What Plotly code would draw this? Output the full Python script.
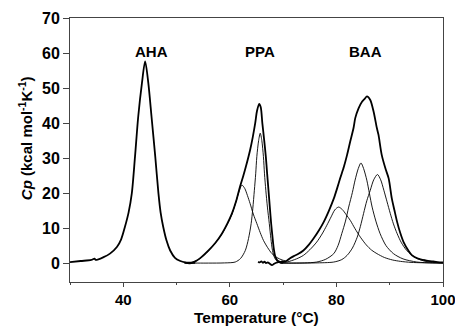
import plotly.graph_objects as go

# ---- data ----
aha_T = [30.0, 32.0, 34.0, 34.6, 34.8, 36.3, 37.5, 38.8, 39.6, 40.3, 41.0, 41.6, 42.2, 42.8, 43.5, 44.1,
         44.7, 45.3, 46.0, 46.6, 47.0, 47.5, 48.1, 48.8, 49.7, 50.7, 51.6, 52.5, 53.5]
aha_cp = [0.3, 0.6, 0.9, 1.3, 0.9, 1.7, 2.7, 4.6, 6.8, 10.3, 14.5, 19.9, 30.4, 41.8, 51.4, 57.6,
          51.4, 41.8, 30.4, 19.9, 14.5, 10.3, 6.5, 3.6, 1.5, 0.6, 0.2, 0.1, 0.1]

ppa_T = [51.5, 52.5, 53.5, 54.5, 56.0, 57.3, 58.5, 59.5, 60.4, 61.2, 61.9, 62.5, 63.0, 63.8, 64.3, 64.75,
         65.1, 65.5, 65.8, 66.1, 66.45, 66.75, 67.0, 67.25, 67.5, 67.75, 68.0, 68.2, 68.5, 68.9, 69.5, 70.0]
ppa_cp = [0.1, -0.1, 0.5, 1.5, 3.6, 5.8, 8.4, 11.2, 14.2, 17.8, 21.8, 24.8, 27.5, 32.3, 36.0, 39.9,
          43.5, 45.5, 44.5, 39.9, 35.0, 30.4, 25.5, 20.8, 16.0, 11.3, 7.5, 4.6, 2.0, 0.8, 0.3, 0.2]

ppa1_T = [52.0, 53.5, 55.0, 56.0, 57.3, 58.5, 59.5, 60.4, 61.2, 61.8, 62.25, 62.8, 63.3, 63.8, 64.4, 65.06,
          65.7, 66.3, 67.1, 67.9, 68.8, 69.8, 70.5]
ppa1_cp = [0.0, 0.5, 2.0, 3.5, 5.8, 8.3, 11.0, 14.0, 17.8, 20.8, 22.3, 21.3, 19.3, 17.0, 14.0, 11.3,
           8.7, 6.5, 4.4, 2.7, 1.6, 0.9, 0.6]

ppa2_T = [51.5, 54.0, 56.0, 59.0, 61.0, 62.0, 62.9, 63.5, 64.0, 64.3, 64.6, 64.85, 65.06, 65.4, 65.7, 66.0,
          66.3, 66.5, 66.75, 67.05, 67.4, 67.7, 68.0, 68.4, 68.9, 69.5, 70.0]
ppa2_cp = [0.0, 0.0, 0.0, 0.05, 0.3, 1.3, 3.6, 7.0, 11.3, 15.5, 20.8, 25.5, 30.4, 35.0, 37.1, 35.0,
           30.4, 25.5, 20.8, 16.0, 11.3, 7.0, 3.6, 1.5, 0.5, 0.1, 0.0]

baa_T = [65.3, 65.6, 65.9, 66.2, 66.5, 66.8, 67.1, 67.5, 67.9, 68.3, 68.7, 69.1, 69.4, 69.8, 70.2, 70.6,
         71.3, 72.0, 72.8, 73.8, 74.8, 75.7, 76.7, 77.6, 78.6, 79.5, 80.1, 80.7, 81.4, 82.0, 82.6, 83.2,
         83.53, 84.15, 84.8, 85.3, 85.73, 86.35, 86.97, 87.6, 87.9, 88.5, 89.2, 89.8, 90.4, 90.9, 91.4,
         92.0, 92.6, 93.5, 94.2, 95.3, 96.7, 98.0, 99.0, 100.0]
baa_cp = [0.4, 0.2, 0.5, 0.1, 0.4, 0.0, 0.2, -0.2, -0.6, -0.2, 0.1, 0.3, 0.2, 0.5, 0.4, 0.6,
          1.4, 2.0, 2.6, 3.6, 5.2, 7.0, 9.3, 11.7, 15.0, 18.4, 21.2, 24.2, 27.5, 30.9, 34.8, 38.5,
          41.4, 44.2, 46.1, 46.9, 47.6, 46.6, 43.3, 38.5, 36.6, 30.9, 27.0, 24.2, 18.4, 15.0, 11.7,
          8.5, 6.0, 3.6, 2.2, 1.3, 0.8, 0.5, 0.3, 0.2]

baa1_T = [69.5, 70.7, 72.5, 73.8, 75.0, 76.3, 77.3, 78.2, 79.0, 79.7, 80.4, 81.1, 81.8, 82.6, 83.5, 84.5,
          85.6, 86.6, 87.6, 89.0, 90.5, 92.0, 94.0, 96.0, 100.0]
baa1_cp = [0.1, 0.3, 1.2, 2.2, 3.8, 6.0, 8.3, 10.8, 13.2, 15.2, 16.0, 15.3, 13.9, 12.2, 9.8, 7.4,
           5.2, 3.7, 2.7, 1.6, 0.9, 0.5, 0.2, 0.1, 0.0]

baa2_T = [69.5, 72.0, 74.0, 76.3, 78.0, 79.5, 80.3, 81.0, 81.7, 82.3, 83.0, 83.5, 84.1, 84.6, 85.1, 85.7,
          86.2, 86.7, 87.4, 88.2, 89.3, 90.7, 92.5, 95.1, 98.0, 100.0]
baa2_cp = [0.0, 0.0, 0.05, 0.3, 1.1, 2.7, 5.0, 8.4, 12.0, 16.0, 20.2, 23.7, 27.0, 28.6, 27.0, 23.7,
           19.8, 16.0, 12.0, 8.4, 5.0, 2.7, 1.2, 0.3, 0.05, 0.0]

baa3_T = [69.5, 73.0, 76.0, 79.5, 81.0, 82.0, 83.0, 83.9, 84.5, 85.1, 85.7, 86.35, 87.0, 87.7, 88.3, 88.9,
          89.5, 90.1, 90.7, 91.4, 92.2, 93.2, 94.6, 96.4, 98.0, 100.0]
baa3_cp = [0.0, 0.0, 0.05, 0.3, 1.0, 2.2, 4.3, 7.4, 10.5, 14.2, 17.8, 20.8, 23.8, 25.3, 23.8, 20.8,
           17.5, 14.2, 11.2, 8.4, 5.8, 3.6, 1.8, 0.6, 0.2, 0.1]

labels = ["AHA", "PPA", "BAA"]
label_T = [45.3, 65.6, 85.4]
label_cp = 60.3

y_ticks = [0, 10, 20, 30, 40, 50, 60, 70]
x_ticks = [40, 60, 80, 100]

FONT = "Liberation Sans, Arial, sans-serif"

fig = go.Figure()
thick = [(aha_T, aha_cp), (ppa_T, ppa_cp), (baa_T, baa_cp)]
thin = [(ppa1_T, ppa1_cp), (ppa2_T, ppa2_cp), (baa1_T, baa1_cp), (baa2_T, baa2_cp), (baa3_T, baa3_cp)]
for T, cp in thin:
    fig.add_trace(go.Scatter(x=T, y=cp, mode="lines", line=dict(color="black", width=0.9, shape="spline", smoothing=0.8),
                             showlegend=False, hoverinfo="skip"))
for T, cp in thick:
    fig.add_trace(go.Scatter(x=T, y=cp, mode="lines", line=dict(color="black", width=1.8, shape="spline", smoothing=0.8),
                             showlegend=False, hoverinfo="skip"))

for lab, t in zip(labels, label_T):
    fig.add_annotation(x=t, y=label_cp, text="<b>" + lab + "</b>", showarrow=False, xref="x", yref="y",
                       xanchor="center", yanchor="middle",
                       font=dict(family=FONT, size=15, color="black"))

fig.add_annotation(x=-0.1206, y=0.545, xref="paper", yref="paper", textangle=-90, showarrow=False,
                   xanchor="center", yanchor="middle",
                   text="<b><i>Cp</i> (kcal mol<sup>-1</sup>K<sup>-1</sup>)</b>",
                   font=dict(family=FONT, size=15, color="black"))
fig.add_annotation(x=0.5, y=-0.136, xref="paper", yref="paper", showarrow=False,
                   xanchor="center", yanchor="middle",
                   text="<b>Temperature (°C)</b>",
                   font=dict(family=FONT, size=15.5, color="black"))

fig.update_layout(
    width=455, height=326,
    margin=dict(l=70, r=12, t=18, b=44, autoexpand=False),
    paper_bgcolor="white", plot_bgcolor="white",
    xaxis=dict(range=[30, 100], tickvals=x_ticks, ticktext=["<b>%d</b>" % v for v in x_ticks],
               ticks="outside", ticklen=4, tickwidth=1, tickcolor="#444", ticklabeloverflow="allow",
               automargin=False,
               showgrid=False, zeroline=False, showline=True, linecolor="#444", linewidth=1, mirror=True,
               tickfont=dict(family=FONT, size=15, color="black"),
               minor=dict(tickvals=[30, 50, 70, 90], ticks="outside", ticklen=2, tickcolor="#444")),
    yaxis=dict(range=[-5.4, 70], tickvals=y_ticks, ticktext=["<b>%d</b>" % v for v in y_ticks],
               ticks="outside", ticklen=6, tickwidth=1, tickcolor="#444", ticklabeloverflow="allow",
               automargin=False,
               showgrid=False, zeroline=False, showline=True, linecolor="#444", linewidth=1, mirror=True,
               tickfont=dict(family=FONT, size=16, color="black")),
)

fig.write_html("out.html")
